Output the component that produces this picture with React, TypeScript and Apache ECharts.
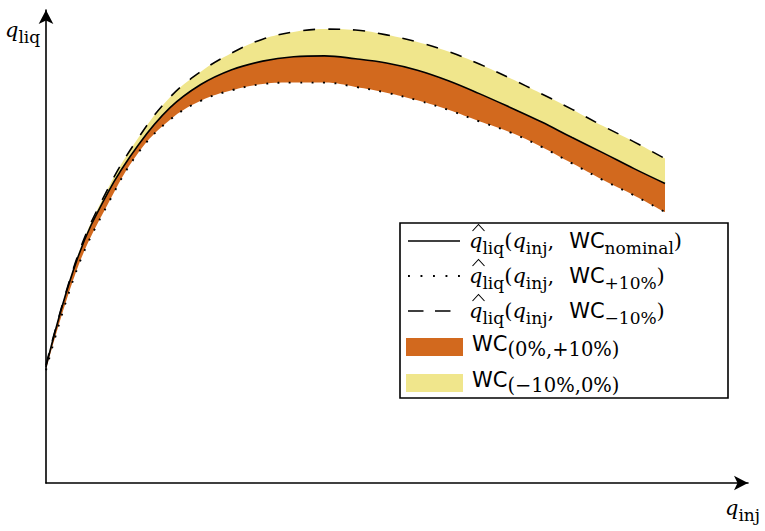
import { useEffect, useRef } from "react";
import * as echarts from "echarts";

const qInj = ["0", "0.5", "1", "1.5", "2", "2.5", "3", "3.5", "4", "4.5", "5", "5.5", "6", "6.5", "7", "7.5", "8", "8.5", "9", "9.5", "10"];
const qLiqNominal = [2.43, 4.67, 6.08, 7.09, 7.85, 8.34, 8.65, 8.83, 8.92, 8.94, 8.88, 8.79, 8.64, 8.42, 8.15, 7.86, 7.56, 7.23, 6.91, 6.58, 6.27];
const qLiqMinus10 = [2.47, 4.71, 6.16, 7.24, 8.07, 8.61, 9.00, 9.29, 9.44, 9.50, 9.48, 9.38, 9.23, 9.03, 8.77, 8.47, 8.15, 7.82, 7.47, 7.14, 6.79];
const qLiqPlus10 = [2.36, 4.47, 5.84, 6.93, 7.60, 8.00, 8.22, 8.35, 8.38, 8.38, 8.29, 8.17, 8.01, 7.81, 7.57, 7.34, 7.04, 6.69, 6.34, 6.02, 5.67];

const legendLabels = [
  "{q|q}{s|liq}{n|(}{q|q}{s|inj}{c|,}{w|WC}{s|nominal}{n|)}",
  "{q|q}{s|liq}{n|(}{q|q}{s|inj}{c|,}{w|WC}{s|+10%}{n|)}",
  "{q|q}{s|liq}{n|(}{q|q}{s|inj}{c|,}{w|WC}{s|\u221210%}{n|)}",
  "{w|WC}{s2|(0%,+10%)}",
  "{w|WC}{s2|(\u221210%,0%)}",
];

const ORANGE = "#D2691E";
const YELLOW = "#F0E68C";
const SERIF = "'DejaVu Serif', 'Liberation Serif', serif";
const SANS = "'DejaVu Sans', 'Liberation Sans', sans-serif";

const rich = {
  q: { fontFamily: SERIF, fontStyle: "italic", fontSize: 21, lineHeight: 30, fill: "#000" },
  n: { fontFamily: SERIF, fontSize: 21, lineHeight: 30, fill: "#000" },
  c: { fontFamily: SERIF, fontSize: 21, lineHeight: 30, fill: "#000", padding: [0, 15, 0, 0] },
  w: { fontFamily: SANS, fontSize: 21, lineHeight: 30, fill: "#000" },
  s: { fontFamily: SERIF, fontSize: 17, lineHeight: 19, verticalAlign: "bottom", fill: "#000" },
  s2: { fontFamily: SERIF, fontSize: 19.5, lineHeight: 14, verticalAlign: "bottom", fill: "#000" },
};

export default function App() {
  const ref = useRef<HTMLDivElement>(null);
  useEffect(() => {
    if (!ref.current) return;
    const chart = echarts.init(ref.current, undefined, { renderer: "svg" });
    const orangeDiff = qLiqNominal.map((v, i) => +(v - qLiqPlus10[i]).toFixed(3));
    const yellowDiff = qLiqMinus10.map((v, i) => +(v - qLiqNominal[i]).toFixed(3));

    const rowY = [241, 276, 311, 344, 380];
    const hatFor = (cy: number) => ({
      type: "polyline",
      shape: { points: [[472.5, cy - 10], [478.5, cy - 16.5], [484.5, cy - 10]] },
      style: { stroke: "#000", lineWidth: 1.1, fill: "none" },
    });

    const graphics: any[] = [
      {
        type: "rect",
        shape: { x: 400, y: 223, width: 328, height: 175 },
        style: { fill: "#fff", stroke: "#000", lineWidth: 1.6 },
        z: 10,
      },
      { type: "line", shape: { x1: 408, y1: rowY[0], x2: 460, y2: rowY[0] }, style: { stroke: "#000", lineWidth: 1.6 }, z: 11 },
      { type: "line", shape: { x1: 408, y1: rowY[1], x2: 461, y2: rowY[1] }, style: { stroke: "#000", lineWidth: 1.9, lineDash: [1.9, 10.6] }, z: 11 },
      { type: "line", shape: { x1: 408, y1: rowY[2], x2: 451, y2: rowY[2] }, style: { stroke: "#000", lineWidth: 1.6, lineDash: [15.5, 11.5] }, z: 11 },
      { type: "rect", shape: { x: 406, y: 338, width: 57, height: 18 }, style: { fill: ORANGE }, z: 11 },
      { type: "rect", shape: { x: 406, y: 374, width: 57, height: 18 }, style: { fill: YELLOW }, z: 11 },
      ...[0, 1, 2].map((i) => ({ ...hatFor(rowY[i]), z: 11 })),
      ...legendLabels.map((t, i) => ({
        type: "text",
        x: i < 3 ? 469 : 472,
        y: rowY[i],
        z: 11,
        style: { text: t, rich, verticalAlign: "middle", align: "left" },
      })),
      {
        type: "text",
        x: 5,
        y: 30,
        style: { text: "{q|q}{s|liq}", rich, verticalAlign: "middle", align: "left" },
      },
      {
        type: "text",
        x: 725,
        y: 508,
        style: { text: "{q|q}{s|inj}", rich, verticalAlign: "middle", align: "left" },
      },
    ];

    const hidden = { show: false };
    const base = {
      type: "line", xAxisIndex: 0, yAxisIndex: 0, smooth: 0.4, symbol: "none",
    };

    chart.setOption({
      animation: false,
      grid: [
        { left: 46, right: 100, top: 10, bottom: 48, containLabel: false },
        { left: 46, right: 17, top: 10, bottom: 48, containLabel: false },
      ],
      xAxis: [
        {
          gridIndex: 0, type: "category", data: qInj, boundaryGap: false,
          axisLine: hidden, axisTick: hidden, axisLabel: hidden, splitLine: hidden,
        },
        {
          gridIndex: 1, type: "value", min: 0, max: 1,
          axisLine: { onZero: false, symbol: ["none", "arrow"], symbolSize: [11, 14], lineStyle: { color: "#000", width: 1.6 } },
          axisTick: hidden, axisLabel: hidden, splitLine: hidden, z: 5,
        },
      ],
      yAxis: [
        {
          gridIndex: 0, type: "value", min: 0, max: 9.9,
          axisLine: hidden, axisTick: hidden, axisLabel: hidden, splitLine: hidden,
        },
        {
          gridIndex: 1, type: "value", min: 0, max: 9.9,
          axisLine: { show: true, onZero: false, symbol: ["none", "arrow"], symbolSize: [11, 14], lineStyle: { color: "#000", width: 1.6 } },
          axisTick: hidden, axisLabel: hidden, splitLine: hidden, z: 5,
        },
      ],
      series: [
        { ...base, data: qLiqPlus10, stack: "band", lineStyle: { width: 0, opacity: 0 }, silent: true, z: 1 },
        { ...base, data: orangeDiff, stack: "band", lineStyle: { width: 0, opacity: 0 }, areaStyle: { color: ORANGE, opacity: 1 }, silent: true, z: 1 },
        { ...base, data: yellowDiff, stack: "band", lineStyle: { width: 0, opacity: 0 }, areaStyle: { color: YELLOW, opacity: 1 }, silent: true, z: 1 },
        { ...base, data: qLiqNominal, lineStyle: { color: "#000", width: 1.6 }, z: 4 },
        { ...base, data: qLiqPlus10, lineStyle: { color: "#000", width: 1.9, type: [1.9, 9.5] }, z: 4 },
        { ...base, data: qLiqMinus10, lineStyle: { color: "#000", width: 1.6, type: [12, 13] }, z: 4 },
      ],
      graphic: graphics,
    });
    return () => chart.dispose();
  }, []);
  return <div ref={ref} style={{ width: 765, height: 531, position: "absolute", left: 0, top: 0 }} />;
}
